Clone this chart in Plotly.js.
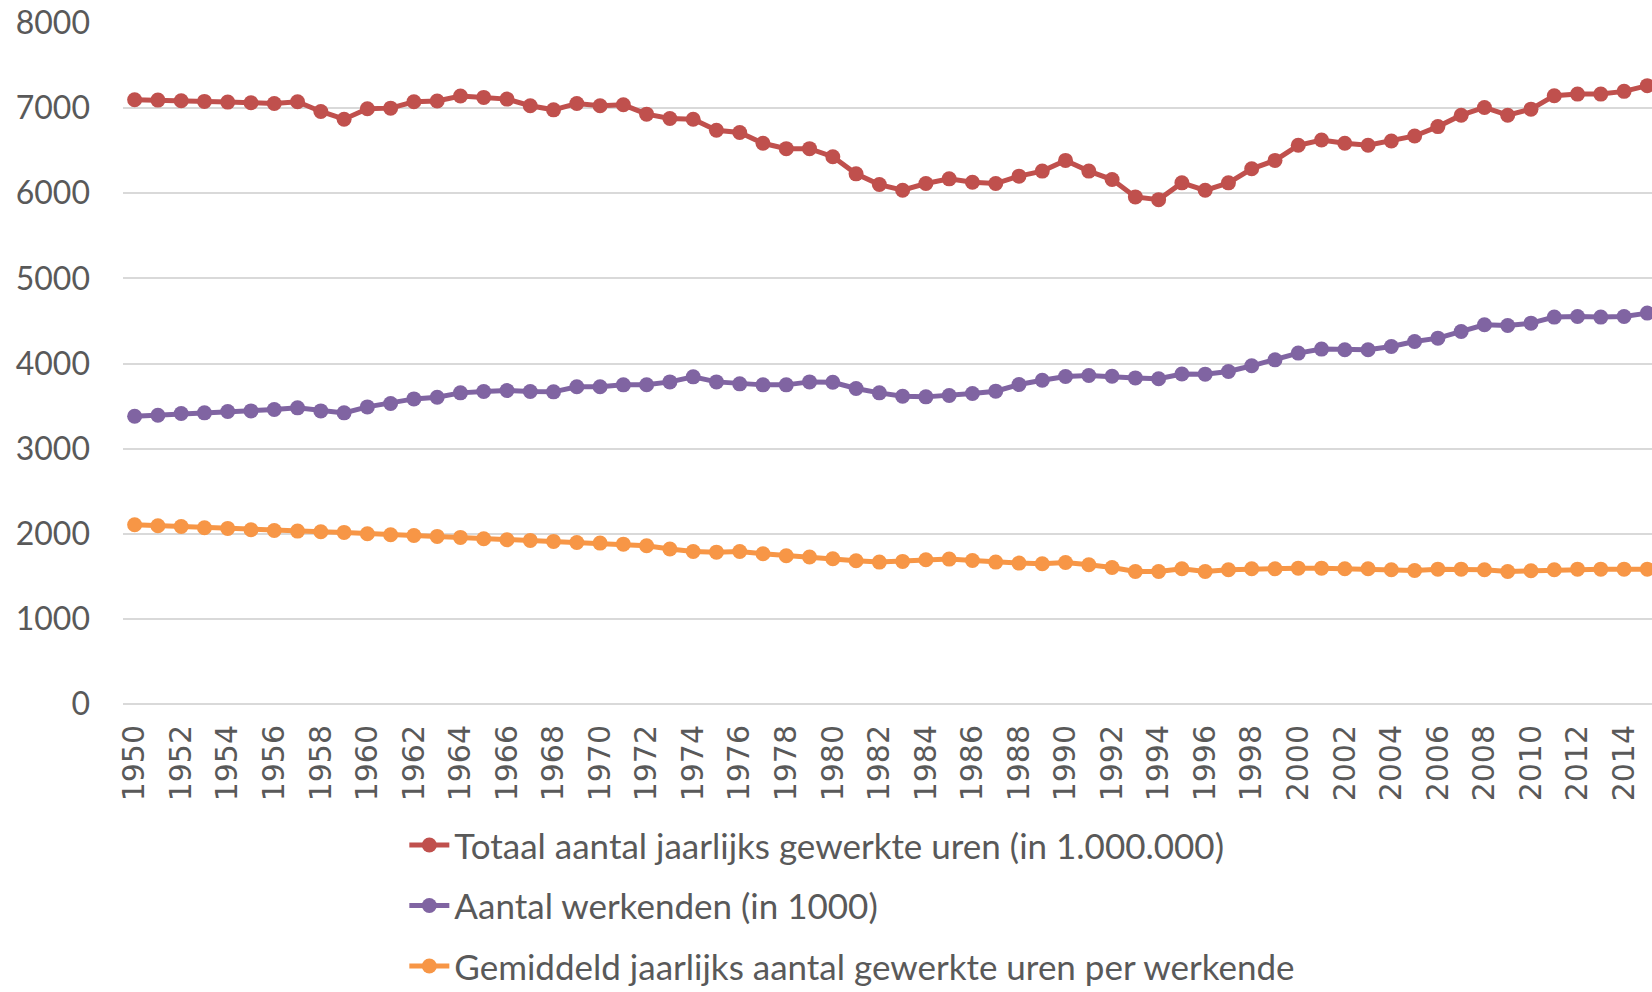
<!DOCTYPE html>
<html>
<head>
<meta charset="utf-8">
<script src="https://cdn.plot.ly/plotly-3.0.1.min.js"></script>
<style>
html,body{margin:0;padding:0;background:#fff;}
#chart{width:1652px;height:992px;}
</style>
</head>
<body>
<div id="chart"></div>
<script>
const years = [1950,1951,1952,1953,1954,1955,1956,1957,1958,1959,
  1960,1961,1962,1963,1964,1965,1966,1967,1968,1969,
  1970,1971,1972,1973,1974,1975,1976,1977,1978,1979,
  1980,1981,1982,1983,1984,1985,1986,1987,1988,1989,
  1990,1991,1992,1993,1994,1995,1996,1997,1998,1999,
  2000,2001,2002,2003,2004,2005,2006,2007,2008,2009,
  2010,2011,2012,2013,2014,2015];

const totaalUren = [7098,7094,7087,7079,7071,7063,7055,7075,6961,6870,
  6992,7000,7075,7083,7142,7126,7106,7028,6980,7055,
  7028,7039,6929,6878,6870,6740,6713,6587,6524,6524,
  6429,6228,6102,6035,6114,6169,6130,6114,6201,6260,
  6386,6260,6161,5957,5925,6122,6035,6122,6287,6386,
  6563,6626,6587,6563,6614,6673,6783,6917,7008,6917,
  6988,7146,7165,7165,7197,7264];

const aantalWerkenden = [3381,3392,3412,3420,3436,3443,3459,3479,3443,3420,
  3490,3530,3584,3604,3655,3671,3682,3671,3667,3726,
  3726,3749,3750,3784,3843,3784,3761,3749,3749,3784,
  3780,3706,3655,3616,3608,3624,3647,3675,3753,3804,
  3847,3859,3851,3831,3820,3876,3875,3906,3973,4043,
  4122,4169,4161,4161,4200,4259,4298,4376,4455,4447,
  4474,4545,4553,4545,4553,4592];

const gemiddeldUren = [2106,2094,2086,2071,2063,2047,2039,2031,2024,2016,
  2000,1988,1980,1969,1957,1941,1929,1922,1910,1898,
  1890,1878,1859,1820,1792,1784,1792,1765,1741,1726,
  1706,1682,1667,1675,1694,1702,1686,1667,1655,1647,
  1663,1635,1604,1557,1557,1588,1557,1577,1588,1588,
  1596,1596,1588,1588,1577,1569,1584,1584,1577,1557,
  1565,1577,1584,1584,1584,1584];

const xTickVals = [1950,1952,1954,1956,1958,1960,1962,1964,1966,1968,
  1970,1972,1974,1976,1978,1980,1982,1984,1986,1988,
  1990,1992,1994,1996,1998,2000,2002,2004,2006,2008,
  2010,2012,2014];
const yTickVals = [0,1000,2000,3000,4000,5000,6000,7000,8000];

const seriesNames = [
  "Totaal aantal jaarlijks gewerkte uren (in 1.000.000)",
  "Aantal werkenden (in 1000)",
  "Gemiddeld jaarlijks aantal gewerkte uren per werkende"
];
const seriesColors = ["#C0504D", "#8064A2", "#F79646"];
const seriesValues = [totaalUren, aantalWerkenden, gemiddeldUren];

const traces = seriesValues.map((vals, i) => ({
  type: "scatter",
  mode: "lines+markers",
  x: years,
  y: vals,
  name: seriesNames[i],
  legendgroup: "g" + i,
  line: {color: seriesColors[i], width: 5},
  marker: {color: seriesColors[i], size: 15},
  cliponaxis: false
}));

const layout = {
  width: 1652,
  height: 992,
  paper_bgcolor: "#ffffff",
  plot_bgcolor: "#ffffff",
  margin: {l: 123, r: 0, t: 23, b: 288, pad: 0, autoexpand: false},
  showlegend: true,
  legend: {
    orientation: "v",
    x: 0.184,
    xanchor: "left",
    y: -0.164,
    yanchor: "top",
    font: {family: "Lato, 'Open Sans', sans-serif", size: 35, color: "#595959"},
    tracegroupgap: 12,
    bgcolor: "rgba(0,0,0,0)",
    itemwidth: 40
  },
  xaxis: {
    type: "linear",
    automargin: false,
    range: [1949.5, 2015.2],
    tickmode: "array",
    tickvals: xTickVals,
    ticktext: xTickVals.map(String),
    tickangle: -90,
    showgrid: false,
    zeroline: false,
    showline: false,
    ticks: "",
    ticklabelstandoff: 14,
    tickfont: {family: "'DejaVu Sans', sans-serif", size: 30, color: "#595959"}
  },
  yaxis: {
    automargin: false,
    range: [0, 8000],
    tickmode: "array",
    tickvals: yTickVals,
    ticktext: yTickVals.map(String),
    showgrid: true,
    gridcolor: "#D9D9D9",
    gridwidth: 2,
    zeroline: true,
    zerolinecolor: "#D9D9D9",
    zerolinewidth: 2,
    showline: false,
    ticks: "",
    ticklabelstandoff: 32,
    tickfont: {family: "Lato, 'Open Sans', sans-serif", size: 32, color: "#595959"}
  }
};

Plotly.newPlot("chart", traces, layout, {displayModeBar: false, staticPlot: true});
</script>
</body>
</html>
